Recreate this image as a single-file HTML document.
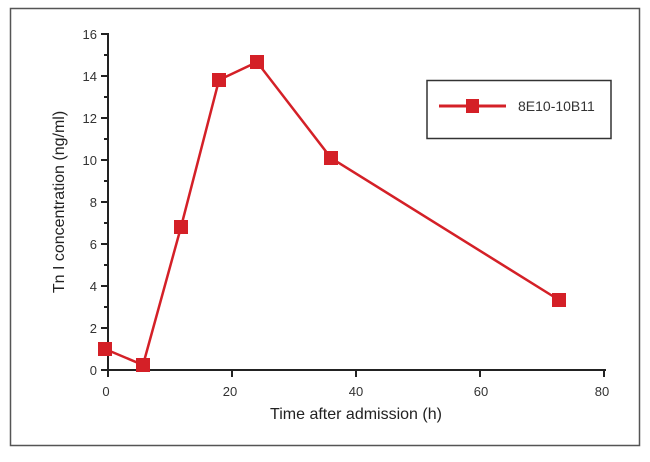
<!DOCTYPE html>
<html><head><meta charset="utf-8"><style>body{margin:0;background:#fff}</style></head><body>
<svg width="650" height="457" viewBox="0 0 650 457" xmlns="http://www.w3.org/2000/svg" font-family="Liberation Sans, Arial, sans-serif">
<rect width="650" height="457" fill="#fff"/>
<rect x="10.5" y="8.5" width="629" height="437" fill="none" stroke="#555" stroke-width="1.5"/>
<g stroke="#222" stroke-width="2" fill="none">
<line x1="108" y1="33" x2="108" y2="372"/>
<line x1="101" y1="370" x2="606" y2="370"/>
<line x1="101" y1="34" x2="108" y2="34"/><line x1="101" y1="76" x2="108" y2="76"/><line x1="101" y1="118" x2="108" y2="118"/><line x1="101" y1="160" x2="108" y2="160"/><line x1="101" y1="202" x2="108" y2="202"/><line x1="101" y1="244" x2="108" y2="244"/><line x1="101" y1="286" x2="108" y2="286"/><line x1="101" y1="328" x2="108" y2="328"/>
<line x1="104" y1="55" x2="108" y2="55"/><line x1="104" y1="97" x2="108" y2="97"/><line x1="104" y1="139" x2="108" y2="139"/><line x1="104" y1="181" x2="108" y2="181"/><line x1="104" y1="223" x2="108" y2="223"/><line x1="104" y1="265" x2="108" y2="265"/><line x1="104" y1="307" x2="108" y2="307"/><line x1="104" y1="349" x2="108" y2="349"/>
<line x1="108" y1="370" x2="108" y2="377"/><line x1="232" y1="370" x2="232" y2="377"/><line x1="356" y1="370" x2="356" y2="377"/><line x1="480" y1="370" x2="480" y2="377"/><line x1="604" y1="370" x2="604" y2="377"/>
</g>
<g font-size="13" fill="#333" text-anchor="end">
<text x="97" y="39">16</text><text x="97" y="81">14</text><text x="97" y="123">12</text><text x="97" y="165">10</text><text x="97" y="207">8</text><text x="97" y="249">6</text><text x="97" y="291">4</text><text x="97" y="333">2</text><text x="97" y="375">0</text>
</g>
<g font-size="13" fill="#333" text-anchor="middle">
<text x="106" y="396">0</text><text x="230" y="396">20</text><text x="356" y="396">40</text><text x="481" y="396">60</text><text x="602" y="396">80</text>
</g>
<text x="356" y="419" font-size="16" fill="#222" text-anchor="middle">Time after admission (h)</text>
<text transform="translate(64,202) rotate(-90)" font-size="16" fill="#222" text-anchor="middle">Tn I concentration (ng/ml)</text>
<polyline points="105,349 143,365 181,227 219,80 257,62 331,158 559,300" fill="none" stroke="#d42027" stroke-width="2.5"/>
<g fill="#d42027">
<rect x="98" y="342" width="14" height="14"/><rect x="136" y="358" width="14" height="14"/><rect x="174" y="220" width="14" height="14"/><rect x="212" y="73" width="14" height="14"/><rect x="250" y="55" width="14" height="14"/><rect x="324" y="151" width="14" height="14"/><rect x="552" y="293" width="14" height="14"/>
</g>
<rect x="427" y="80.5" width="184" height="58" fill="#fff" stroke="#333" stroke-width="1.5"/>
<line x1="439" y1="106" x2="506" y2="106" stroke="#d42027" stroke-width="3"/>
<rect x="466" y="99" width="13" height="14" fill="#d42027"/>
<text x="518" y="111" font-size="14" fill="#333">8E10-10B11</text>
</svg>
</body></html>
